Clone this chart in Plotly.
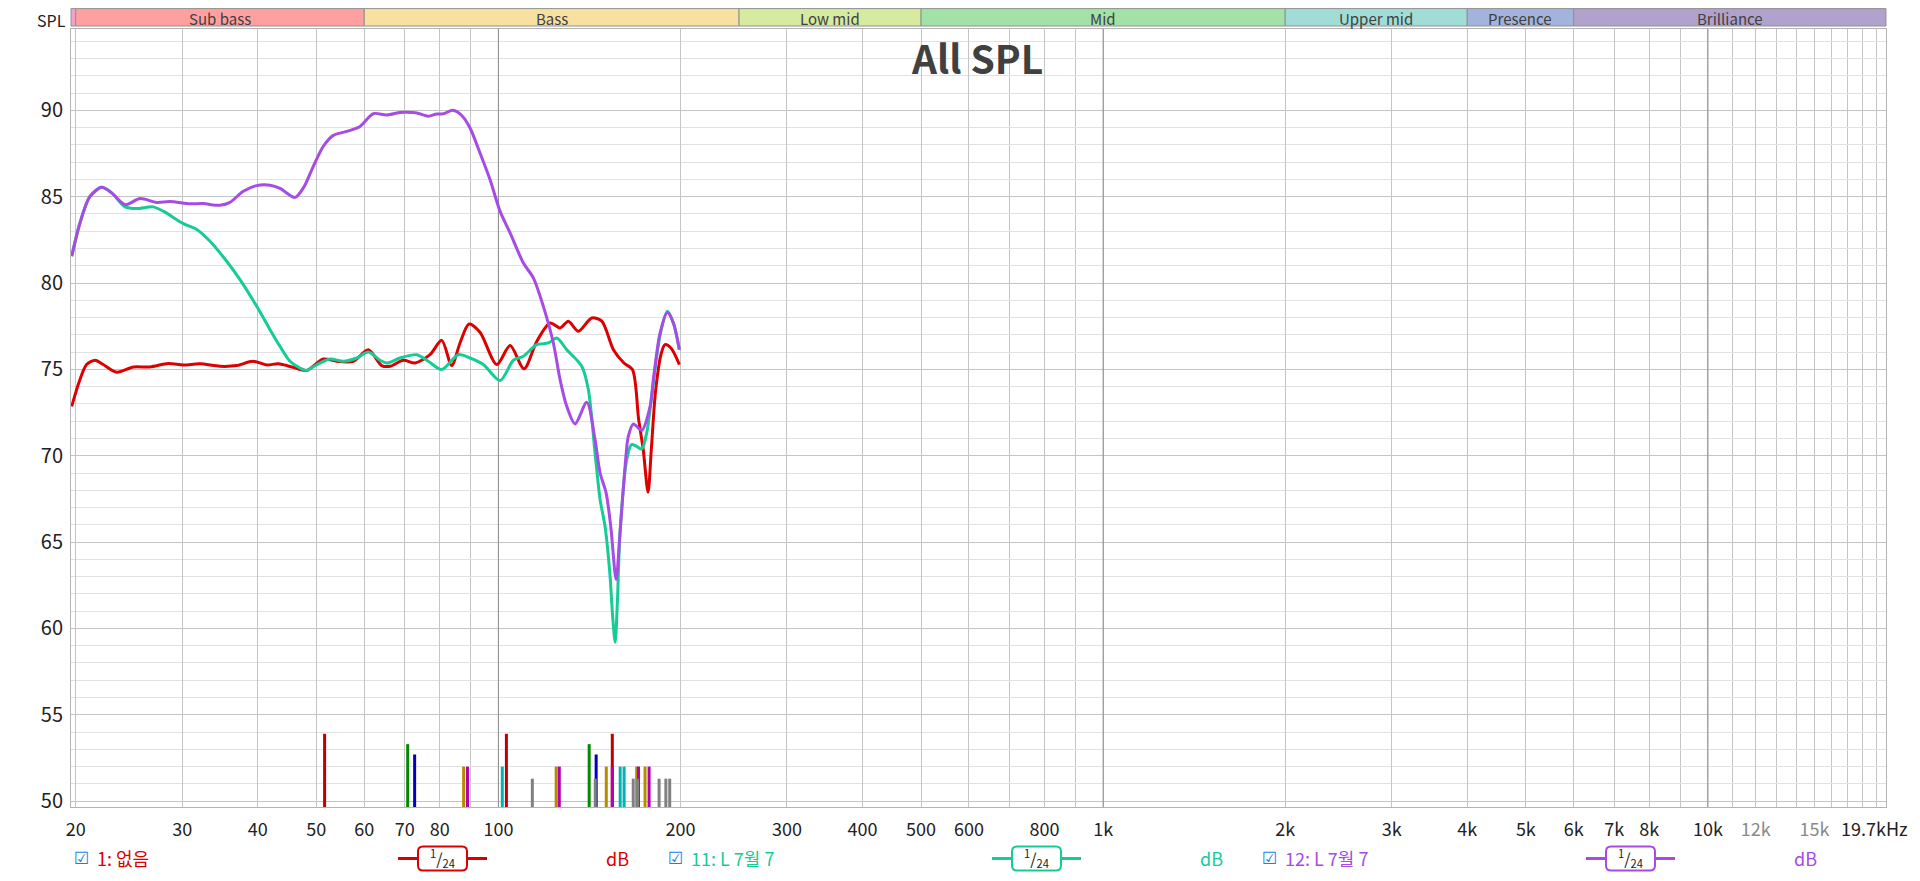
import math
import plotly.graph_objects as go

# measured responses, frequency (Hz) / SPL (dB)
red_name = "1: 없음"
red_freq = [19.7, 20.33, 20.85, 21.54, 22.21, 23.38, 24.92, 26.54, 28.45, 30.13, 32.11, 34.64, 36.92, 39.25,
            41.4, 43.27, 45.8, 48.2, 51.35, 54.04, 57.57, 60.95, 64.14, 66.2, 69.64, 72.81, 77.08, 80.59, 83.72,
            86.41, 89.43, 93.25, 99.4, 104.56, 110.27, 115.72, 121.74, 126.47, 130.53, 135.59, 142.69, 148.25,
            154.96, 161.3, 166.6, 170.6, 173.6, 176.8, 179.0, 182.0, 186.0, 188.6, 192.9, 199.2]
red_spl = [72.86, 74.41, 75.28, 75.53, 75.28, 74.83, 75.14, 75.14, 75.34, 75.26, 75.32, 75.18, 75.22, 75.47,
           75.26, 75.32, 75.12, 74.94, 75.6, 75.47, 75.47, 76.14, 75.22, 75.18, 75.53, 75.37, 75.85, 76.68, 75.22,
           76.53, 77.63, 77.15, 75.28, 76.38, 75.03, 76.62, 77.69, 77.4, 77.79, 77.21, 77.98, 77.79,
           76.14, 75.37, 74.99, 72.09, 70.35, 67.88, 70.35, 73.8, 75.95, 76.43, 76.24, 75.28]

teal_name = "11: L 7월 7"
teal_freq = [19.7, 20.33, 21.11, 22.08, 22.94, 24.14, 25.24, 26.87, 27.91, 30.13, 31.71, 33.35, 35.54, 37.39,
             39.85, 41.92, 43.55, 45.23, 46.98, 48.2, 50.08, 52.68, 55.42, 58.32, 60.95, 63.73, 65.37, 68.77,
             73.29, 76.58, 80.59, 85.85, 89.77, 94.43, 100.66, 105.88, 109.98, 115.72, 120.96, 124.89, 129.74,
             137.35, 140.85, 144.5, 147.3, 150.1, 153.0, 154.5, 156.0, 157.3, 158.9, 163.0, 166.0, 169.1, 172.6,
             175.9, 179.0, 185.1, 190.3, 194.7, 199.2]
teal_spl = [81.55, 83.48, 85.0, 85.54, 85.22, 84.41, 84.31, 84.41, 84.16, 83.44, 83.1, 82.42, 81.26, 80.2,
            78.65, 77.3, 76.33, 75.47, 75.08, 74.94, 75.27, 75.6, 75.47, 75.66, 76.0, 75.53, 75.37, 75.66,
            75.85, 75.47, 74.99, 75.85, 75.66, 75.28, 74.35, 75.53, 75.76, 76.43, 76.53, 76.82, 76.14,
            75.18, 73.83, 70.16, 67.46, 65.91, 63.02, 60.7, 59.2, 61.5, 65.53, 69.77, 70.64, 70.55, 70.39,
            71.32, 73.25, 77.0, 78.36, 77.69, 76.14]

purple_name = "12: L 7월 7"
purple_freq = [19.7, 20.33, 21.11, 22.08, 22.94, 24.14, 25.56, 27.22, 28.63, 30.91, 32.51, 34.64, 35.99, 37.86,
               39.85, 41.92, 43.55, 46.1, 47.58, 49.43, 51.35, 53.35, 56.14, 59.05, 62.12, 65.37, 68.77, 70.54,
               73.29, 76.58, 79.07, 81.09, 84.04, 86.97, 89.77, 93.25, 96.86, 100.66, 104.56, 109.98, 114.23,
               118.67, 123.28, 126.47, 129.74, 133.9, 140.0, 144.49, 147.3, 150.7, 153.4, 156.55, 158.9, 162.0,
               164.0, 167.2, 172.6, 178.2, 180.4, 185.1, 190.3, 194.7, 199.2]
purple_spl = [81.55, 83.48, 85.0, 85.54, 85.22, 84.54, 84.89, 84.67, 84.72, 84.59, 84.6, 84.5, 84.67, 85.31,
              85.64, 85.66, 85.48, 84.96, 85.5, 86.76, 87.92, 88.55, 88.78, 89.07, 89.81, 89.73, 89.88, 89.89,
              89.85, 89.66, 89.79, 89.8, 90.0, 89.7, 88.98, 87.53, 85.99, 84.15, 82.9, 81.16, 80.3,
              78.65, 76.53, 74.41, 72.86, 71.84, 73.09, 70.93, 69.0, 67.85, 65.91, 62.83, 65.53, 69.39,
              71.12, 71.84, 71.47, 72.86, 74.41, 77.11, 78.3, 77.69, 76.14]

# room mode markers (Hz) and their marker level (dB)
modes_red = [51.6, 103.1, 154.3]
modes_red_level = 53.9
modes_green = [70.8, 141.3]
modes_green_level = 53.3
modes_blue = [72.7, 145.1]
modes_blue_level = 52.7
modes_cyan = [101.5, 159.0, 161.4]
modes_cyan_level = 52.0
modes_gold = [87.6, 124.6, 150.8, 169.3, 174.8]
modes_gold_level = 52.0
modes_magenta = [88.9, 126.1, 154.3, 170.5, 177.5]
modes_magenta_level = 52.0
modes_gray = [113.8, 144.6, 167.1, 169.9, 184.4, 189.2, 192.0]
modes_gray_level = 51.3

# frequency bands shown above the graph
band_names = ["Sub bass", "Bass", "Low mid", "Mid", "Upper mid", "Presence", "Brilliance"]
band_edges = [20, 60, 250, 500, 2000, 4000, 6000, 19700]

x_tick_vals = [20, 30, 40, 50, 60, 70, 80, 100, 200, 300, 400, 500, 600, 800, 1000, 2000, 3000, 4000, 5000,
               6000, 7000, 8000, 10000, 12000, 15000, 19700]
x_tick_text = ["20", "30", "40", "50", "60", "70", "80", "100", "200", "300", "400", "500", "600", "800", "1k",
               "2k", "3k", "4k", "5k", "6k", "7k", "8k", "10k", "12k", "15k", "19.7kHz"]
x_grid_extra = [90, 700, 900, 9000, 11000, 13000, 14000, 16000, 17000, 18000, 19000]
x_decades = [100, 1000, 10000]

# ---- layout numbers ----
# page has an 8px body margin, so the figure is a bit smaller and shifted
OFF = 8
W, H = 1920 - 2 * OFF, 881 - 2 * OFF
PLOT_L, PLOT_T, PLOT_R, PLOT_B = 71, 29, 1886, 807  # page pixels
ML, MT = PLOT_L - OFF, PLOT_T - OFF
MR, MB = OFF + W - PLOT_R, OFF + H - PLOT_B
PW, PH = PLOT_R - PLOT_L, PLOT_B - PLOT_T
X_RANGE = [1.2933, 4.2945]
Y_RANGE = [49.66, 94.71]
FONT = "Noto Sans CJK KR, Noto Sans, sans-serif"

band_colors = ["#ffa0a0", "#f8e0a0", "#d6eaa0", "#a2e2a8", "#a2dcd6", "#a2b4dc", "#b0a2cc"]
light_ticks = ["12k", "15k"]


def px(x):
    return (x - PLOT_L) / PW


def py(y):
    return (PLOT_B - y) / PH


def fx(f):
    return (math.log10(f) - X_RANGE[0]) / (X_RANGE[1] - X_RANGE[0])


fig = go.Figure()

# darker decade lines
for d in x_decades:
    fig.add_trace(go.Scatter(x=[d, d], y=Y_RANGE, mode="lines", line=dict(color="#8c8c8c", width=1),
                             hoverinfo="skip"))

# room mode markers
mode_sets = [
    (modes_red, modes_red_level, "#c00000"),
    (modes_green, modes_green_level, "#008a00"),
    (modes_blue, modes_blue_level, "#0000c0"),
    (modes_cyan, modes_cyan_level, "#00b4b4"),
    (modes_gold, modes_gold_level, "#b48c00"),
    (modes_magenta, modes_magenta_level, "#b400b4"),
    (modes_gray, modes_gray_level, "#808080"),
]
for freqs, level, color in mode_sets:
    xs, ys = [], []
    for f in freqs:
        xs += [f, f, None]
        ys += [Y_RANGE[0], level, None]
    fig.add_trace(go.Scatter(x=xs, y=ys, mode="lines", line=dict(color=color, width=3), hoverinfo="skip"))

series = [
    (red_name, red_freq, red_spl, "#dd0000"),
    (teal_name, teal_freq, teal_spl, "#16cc96"),
    (purple_name, purple_freq, purple_spl, "#a64ce4"),
]
for name, f, s, color in series:
    fig.add_trace(go.Scatter(x=f, y=s, name=name, mode="lines",
                             line=dict(color=color, width=3, shape="spline", smoothing=0.8)))

shapes = []
annotations = []

# band header
y0h, y1h = py(26), py(8.6)
shapes.append(dict(type="rect", xref="paper", yref="paper", x0=0, x1=fx(20), y0=y0h, y1=y1h,
                   fillcolor="#f2a0cc", line=dict(color="#909090", width=1)))
for i, name in enumerate(band_names):
    a, b = fx(band_edges[i]), min(fx(band_edges[i + 1]), 1)
    shapes.append(dict(type="rect", xref="paper", yref="paper", x0=a, x1=b, y0=y0h, y1=y1h,
                       fillcolor=band_colors[i], line=dict(color="#909090", width=1)))
    annotations.append(dict(x=(a + b) / 2, y=py(19), xref="paper", yref="paper", text=name,
                            showarrow=False, font=dict(size=15, color="#404040", family=FONT),
                            xanchor="center", yanchor="middle"))

annotations.append(dict(x=px(68), y=py(19.5), xref="paper", yref="paper", text="SPL", showarrow=False,
                        xanchor="right", yanchor="middle",
                        font=dict(size=16, color="#222222", family=FONT)))
annotations.append(dict(x=px(977), y=py(57), xref="paper", yref="paper", text="<b>All SPL</b>",
                        showarrow=False, xanchor="center", yanchor="middle",
                        font=dict(size=39, color="#404040", family=FONT)))

# last frequency label sits flush with the right edge
annotations.append(dict(x=px(1910), y=py(828), xref="paper", yref="paper", text=x_tick_text[-1],
                        showarrow=False, xanchor="right", yanchor="middle",
                        font=dict(size=18, color="#222222", family=FONT)))

# legend row along the bottom
ly = py(858.5)
box_h = 24 / PH
r_x, r_y = 5 / PW, 5 / PH
for i, (name, f, s, color) in enumerate(series):
    off = i * 594
    annotations.append(dict(x=px(81.7 + off), y=ly, xref="paper", yref="paper", text="☑", showarrow=False,
                            xanchor="center", yanchor="middle", font=dict(size=17, color="#1a7fe8",
                                                                          family="DejaVu Sans")))
    annotations.append(dict(x=px(95 + off), y=ly, xref="paper", yref="paper", text=name, showarrow=False,
                            xanchor="left", yanchor="middle", font=dict(size=18, color=color, family=FONT)))
    shapes.append(dict(type="line", xref="paper", yref="paper", x0=px(398 + off), x1=px(487 + off),
                       y0=ly, y1=ly, line=dict(color=color, width=3)))
    x0, x1 = px(418 + off), px(467 + off)
    y0, y1 = ly - box_h / 2, ly + box_h / 2
    path = (f"M {x0 + r_x},{y0} L {x1 - r_x},{y0} Q {x1},{y0} {x1},{y0 + r_y} L {x1},{y1 - r_y} "
            f"Q {x1},{y1} {x1 - r_x},{y1} L {x0 + r_x},{y1} Q {x0},{y1} {x0},{y1 - r_y} "
            f"L {x0},{y0 + r_y} Q {x0},{y0} {x0 + r_x},{y0} Z")
    shapes.append(dict(type="path", xref="paper", yref="paper", path=path, fillcolor="white",
                       line=dict(color=color, width=2)))
    annotations.append(dict(x=px(442.5 + off), y=ly, xref="paper", yref="paper",
                            text="<sup>1</sup>/<sub>24</sub>", showarrow=False, xanchor="center",
                            yanchor="middle", font=dict(size=16, color="#222222", family=FONT)))
    annotations.append(dict(x=px(617.6 + off), y=ly, xref="paper", yref="paper", text="dB", showarrow=False,
                            xanchor="center", yanchor="middle", font=dict(size=18, color=color, family=FONT)))

tick_text = [f"<span style='color:#8a8a8a'>{t}</span>" if t in light_ticks else t for t in x_tick_text]
tick_text[-1] = ""

fig.update_layout(
    template="none",
    width=W,
    height=H,
    margin=dict(l=ML, r=MR, t=MT, b=MB, autoexpand=False),
    paper_bgcolor="white",
    plot_bgcolor="white",
    showlegend=False,
    font=dict(family=FONT, size=18, color="#222222"),
    shapes=shapes,
    annotations=annotations,
    xaxis=dict(
        type="log",
        range=X_RANGE,
        tickmode="array",
        tickvals=x_tick_vals,
        ticktext=tick_text,
        ticks="",
        ticklabelstandoff=6,
        showgrid=True,
        gridcolor="#c4c4c4",
        gridwidth=1,
        minor=dict(tickvals=x_grid_extra, showgrid=True, gridcolor="#c4c4c4", ticks=""),
        showline=True,
        linecolor="#b4b4b4",
        mirror=True,
        zeroline=False,
        automargin=False,
        tickfont=dict(size=18, color="#222222"),
    ),
    yaxis=dict(
        range=Y_RANGE,
        tick0=50,
        dtick=5,
        ticks="",
        ticklabelstandoff=3,
        showgrid=True,
        gridcolor="#c4c4c4",
        minor=dict(dtick=1, tick0=50, showgrid=True, gridcolor="#e2e2e2", ticks=""),
        showline=True,
        linecolor="#b4b4b4",
        mirror=True,
        zeroline=False,
        automargin=False,
        tickfont=dict(size=20, color="#222222"),
    ),
)

fig.write_html("out.html")
